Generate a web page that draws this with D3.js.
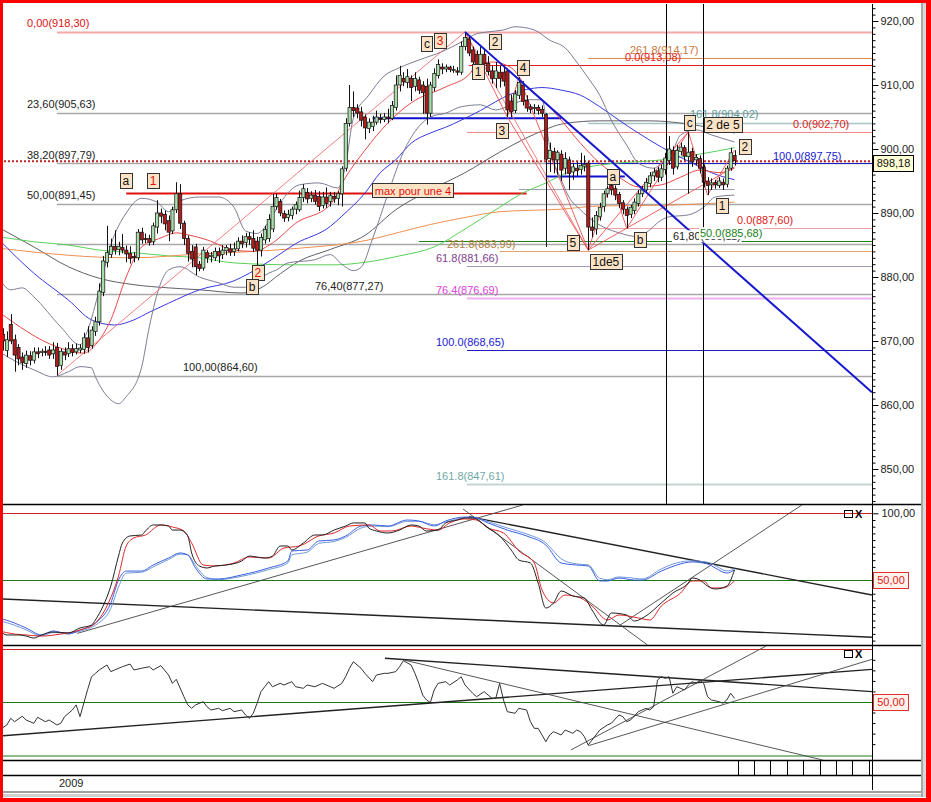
<!DOCTYPE html>
<html><head><meta charset="utf-8">
<script src="https://cdn.jsdelivr.net/npm/d3@7/dist/d3.min.js"></script>
<style>
html,body{margin:0;padding:0;background:#fff;}
svg{display:block;}
text{font-family:"Liberation Sans",Arial,sans-serif;}
</style></head><body>
<svg id="chart" width="931" height="802"></svg>
<script>
// ---------------- DATA ----------------
const opens=[871.0,868.5,872.6,870.2,869.0,867.5,866.5,867.7,867.0,868.3,
868.2,868.4,868.6,868.0,869.0,866.2,868.3,868.0,868.8,868.3,
868.6,868.7,870.5,869.3,871.5,873.0,877.6,882.3,883.5,884.8,
884.3,884.6,884.2,883.7,883.2,883.0,887.0,886.0,886.0,885.5,
887.8,890.0,889.8,888.8,887.2,890.5,893.0,888.4,886.0,884.0,
884.7,882.0,881.4,883.8,883.2,883.0,884.0,883.5,884.1,884.4,
884.0,884.4,885.6,885.4,886.3,886.0,885.6,884.2,885.8,886.0,
887.5,891.0,891.8,889.9,889.3,889.6,890.6,890.5,892.4,893.2,
892.3,892.8,892.6,891.2,892.5,891.8,892.6,892.3,893.0,897.0,
904.0,906.5,906.4,905.8,905.0,903.2,903.5,904.2,904.8,904.6,
905.0,904.8,906.5,910.0,911.0,910.4,911.0,909.8,910.8,910.0,
909.8,905.6,909.6,911.5,912.8,912.5,912.8,912.3,912.2,912.0,
916.0,917.2,915.5,914.8,913.2,914.8,913.4,912.2,911.0,912.0,
912.0,912.2,907.5,906.0,908.4,910.0,907.6,906.6,906.3,906.5,
906.2,905.4,898.5,899.6,898.3,899.2,897.0,898.3,896.4,897.0,
896.8,897.3,897.8,887.8,887.5,889.4,891.0,893.0,894.3,893.8,
892.9,891.6,890.6,889.8,890.4,891.5,893.0,893.6,894.6,895.8,
896.6,895.6,896.8,898.2,899.8,897.2,899.6,900.2,898.8,899.6,
898.3,898.5,897.2,895.0,894.4,894.8,894.3,894.8,894.5,897.0,
899.0];
const highs=[872.0,871.5,874.2,871.0,869.5,868.2,868.5,868.4,869.0,869.0,
868.8,869.2,869.2,869.8,869.7,868.8,869.0,869.8,869.5,869.6,
869.5,871.3,872.3,872.3,873.8,879.0,883.3,888.0,886.0,887.3,
885.5,886.7,884.9,884.8,883.9,887.5,887.7,886.8,886.6,888.5,
892.0,890.7,890.4,889.6,891.0,894.8,894.5,888.8,886.5,885.0,
885.2,882.5,884.7,884.2,883.9,884.6,884.6,885.0,885.0,885.2,
885.4,886.2,886.5,886.9,887.0,887.3,886.3,886.8,888.0,889.8,
893.0,893.0,892.2,890.4,890.5,891.0,891.8,893.5,894.5,893.9,
893.4,893.6,893.4,893.3,894.0,893.3,893.3,893.4,897.3,904.8,
910.0,909.0,907.0,906.6,905.4,904.8,905.2,906.0,905.5,905.6,
906.3,907.5,911.5,913.0,912.0,912.5,911.5,912.0,911.3,910.6,
911.0,910.5,912.6,914.0,913.4,913.2,913.0,913.0,912.8,916.8,
918.3,917.8,916.0,915.4,916.0,915.5,914.5,913.0,913.6,913.0,
912.8,912.6,908.5,909.2,911.2,910.6,908.4,907.0,907.0,906.9,
906.8,905.6,901.0,900.2,899.8,899.8,899.5,898.8,897.8,898.0,
899.4,899.0,898.0,889.3,890.3,891.6,893.5,894.3,895.0,894.3,
893.3,892.0,891.0,891.3,892.3,893.6,894.2,895.5,896.4,897.0,
897.2,897.6,899.4,902.0,900.4,900.6,901.0,900.6,902.7,900.2,
899.2,899.0,897.6,895.6,895.4,895.2,895.6,895.4,897.4,900.2,
899.8];
const lows=[868.5,867.5,869.5,865.2,866.2,865.5,865.8,866.2,866.5,867.3,
867.6,867.7,867.2,867.2,864.6,865.5,867.0,867.5,867.6,867.9,
868.1,868.0,868.2,868.8,870.8,872.4,877.0,881.5,883.0,883.5,
883.4,883.7,882.3,882.1,882.3,882.6,885.2,885.3,884.9,885.0,
886.8,888.4,887.3,885.6,886.7,890.0,887.5,885.0,882.4,881.5,
880.3,880.9,881.0,882.2,882.3,882.5,882.2,882.8,883.4,883.3,
883.3,884.0,884.5,884.6,885.0,883.9,880.6,883.2,885.2,885.5,
887.0,890.5,889.5,888.6,888.7,889.0,889.8,890.2,891.7,891.5,
891.7,891.3,890.3,890.7,890.8,891.0,891.6,891.2,891.0,896.5,
903.5,905.0,904.8,903.5,901.5,902.5,902.8,903.8,904.0,904.2,
904.0,904.5,906.0,909.0,909.8,909.5,907.5,909.0,908.6,905.5,
903.8,905.0,909.0,911.0,911.7,912.0,912.0,911.9,911.5,911.6,
915.4,914.5,913.0,912.4,912.8,912.5,911.5,910.2,909.5,909.6,
909.8,905.0,905.0,905.6,907.8,906.8,905.8,905.6,905.5,905.4,
905.0,884.7,896.4,896.2,896.0,895.0,896.0,893.6,895.2,895.8,
896.0,896.5,884.2,886.2,886.6,888.8,890.2,892.4,892.8,892.0,
890.8,889.8,887.6,889.2,889.8,891.0,892.5,893.2,894.0,895.0,
894.8,895.0,896.0,897.5,896.0,896.8,899.0,898.2,893.0,897.2,
897.5,896.2,894.0,892.8,893.6,893.8,893.9,893.6,894.0,896.6,
897.4];
const closes=[870.0,870.2,870.0,867.8,867.2,866.6,867.8,867.0,868.3,868.0,
868.4,868.2,867.8,868.6,866.0,868.4,867.8,868.8,868.2,868.8,
868.9,870.5,869.0,871.7,873.0,877.8,882.5,883.8,884.8,884.2,
884.8,884.2,883.6,882.9,883.0,887.0,885.8,885.9,885.4,888.0,
890.0,889.5,888.3,887.0,890.5,893.0,888.4,886.0,883.7,882.8,
881.6,881.3,884.2,883.0,883.4,884.0,883.3,884.2,884.6,883.9,
884.4,885.6,885.2,886.3,885.9,884.5,884.2,886.2,887.4,889.0,
891.0,892.4,890.0,889.2,889.8,890.6,891.3,892.4,893.8,892.2,
892.8,891.8,891.0,892.5,891.5,892.7,892.2,893.0,896.9,904.0,
906.5,906.0,905.6,904.5,903.3,904.2,904.2,905.0,904.6,905.0,
904.8,906.8,910.0,911.5,910.5,911.3,909.6,911.0,909.2,908.8,
905.6,910.0,911.8,913.2,912.5,912.8,912.4,912.4,912.0,916.0,
917.4,915.0,913.6,913.0,914.8,913.3,912.1,911.0,912.2,911.0,
910.6,906.1,905.8,908.6,910.4,907.4,906.4,906.2,906.5,906.0,
905.6,898.4,899.8,898.3,899.5,896.7,898.5,896.2,897.2,896.6,
897.4,897.6,887.8,887.3,889.6,890.9,893.0,893.8,893.6,892.8,
891.5,890.6,889.6,890.9,891.7,893.0,893.6,894.8,895.8,896.4,
895.6,896.9,898.6,900.0,897.0,899.8,900.3,898.9,899.5,898.0,
898.7,897.0,894.8,894.3,894.7,894.4,895.0,894.4,897.0,899.4,
898.18];
const lastPrice=898.18;

// indicator curves: [bar index, value]
const bbUpper=[[-1,879.8],[2,878.0],[5,878.3],[8,876.9],[15,872.2],[20,869.4],[22,871.7],[25,878.0],[28,885.0],[32,890.0],[36,892.3],[40,891.7],[43,890.2],[46,891.9],[51,892.5],[56,892.5],[60,890.9],[63,887.2],[66,886.8],[69,888.6],[72,891.6],[77,894.4],[82,894.7],[87,893.9],[89,897.5],[91,904.8],[95,908.4],[99,911.4],[103,912.7],[108,913.9],[114,915.2],[119,916.7],[123,918.0],[126,918.3],[130,918.6],[133,919.1],[138,918.6],[142,917.0],[146,915.8],[149,913.6],[152,911.1],[155,908.4],[158,904.5],[162,900.6],[165,897.8],[169,897.0],[171,897.8],[174,899.8],[176,902.2],[180,903.0],[184,902.2],[190,901.1]];
const bbLower=[[-1,868.3],[4,866.6],[8,865.5],[13,864.4],[17,865.2],[20,866.0],[23,865.8],[24,864.4],[28,860.8],[30,860.2],[32,861.3],[36,865.9],[38,872.2],[41,879.1],[43,881.1],[46,881.6],[51,880.0],[56,879.1],[60,878.4],[63,878.4],[66,879.5],[69,880.6],[71,881.1],[74,882.2],[81,882.7],[85,883.5],[88,882.0],[91,881.0],[93,881.5],[96,886.0],[100,893.0],[104,899.5],[108,903.5],[111,905.0],[115,905.6],[119,906.6],[124,906.9],[128,906.1],[132,906.9],[136,907.7],[140,907.7],[142,900.3],[145,895.2],[147,892.5],[150,890.5],[153,888.9],[156,887.8],[160,886.9],[165,886.3],[167,886.9],[171,888.9],[173,889.4],[178,889.7],[182,890.9],[185,892.5],[190,892.8]];
const darkMA=[[-1,887.7],[8,884.7],[17,881.6],[25,879.8],[34,878.8],[43,878.3],[51,878.0],[62,877.5],[67,878.3],[72,880.5],[77,882.5],[85,884.3],[94,886.5],[102,890.5],[111,893.6],[120,896.3],[129,899.5],[138,902.3],[146,904.0],[155,904.4],[168,904.4],[178,903.9],[190,902.5]];
const blueMA=[[-1,885.8],[8,880.6],[17,876.4],[23,873.3],[29,872.5],[34,873.3],[38,874.5],[43,875.9],[51,878.0],[60,879.4],[64,880.6],[70,882.8],[76,885.2],[85,887.9],[88,889.5],[94,893.1],[98,896.3],[102,898.3],[106,900.9],[111,902.5],[115,903.4],[119,904.5],[124,906.0],[128,907.4],[132,908.6],[136,909.3],[140,909.6],[145,909.2],[150,908.4],[155,906.6],[160,904.5],[165,902.5],[171,900.3],[179,897.8],[184,896.3],[190,895.2]];
const greenMA=[[-1,886.3],[8,885.5],[17,885.0],[25,884.2],[34,883.8],[43,883.3],[51,883.0],[60,882.2],[76,881.9],[86,881.9],[94,882.3],[103,883.3],[112,884.7],[120,887.5],[124,889.0],[129,890.9],[134,892.8],[141,894.7],[147,896.4],[155,897.5],[171,898.3],[181,899.2],[190,900.2]];
const orangeMA=[[-1,884.5],[17,883.4],[25,883.1],[34,883.0],[51,883.6],[62,883.9],[77,884.5],[95,885.8],[103,887.0],[111,888.2],[120,889.3],[129,890.2],[145,890.6],[155,891.1],[171,891.2],[190,891.7]];
const redMA=[[-1,874.5],[14,869.1],[21,868.1],[24,869.4],[28,873.3],[32,880.0],[36,884.7],[41,886.1],[45,886.9],[48,886.6],[53,885.8],[60,884.2],[65,884.0],[70,885.3],[76,888.4],[85,891.3],[89,895.6],[94,899.8],[100,904.1],[106,907.2],[115,909.7],[121,911.6],[123,913.0],[127,913.6],[132,912.7],[136,909.7],[141,907.2],[145,904.5],[150,900.9],[155,897.8],[160,895.6],[165,894.1],[171,894.4],[176,895.6],[181,896.7],[186,896.3],[190,897.0]];

// Fibonacci levels
const leftFibPrices=[918.30,905.63,897.79,891.45,885.11,877.27,864.60];
const leftFibLabels=["0,00(918,30)","23,60(905,63)","38,20(897,79)","50,00(891,45)","61,80(885,11)","76,40(877,27)","100,00(864,60)"];
const rightFibPrices=[914.17,913.08,904.02,902.70,897.75,887.60,885.68,883.99,881.66,876.69,868.65,847.61];
const rightFibLabels=["261.8(914,17)","0.0(913,08)","161.8(904,02)","0.0(902,70)","100.0(897,75)","0.0(887,60)","50.0(885,68)","261.8(883,99)","61.8(881,66)","76.4(876,69)","100.0(868,65)","161.8(847,61)"];

// wave labels
const waveTexts=["a","1","c","3","2","1","4","3","5","1de5","b","a","c","2 de 5","2","1","2","b"];
const waveIdx=[31.9,39,110.1,113.5,127.8,123.4,135.1,129.6,148,156.6,165.5,158.4,178.4,187,192.7,186.8,66.2,64.7];
const wavePrice=[895.0,895.0,916.4,916.9,916.7,912.0,912.7,902.8,885.3,882.3,885.8,895.6,904.1,903.75,900.3,891.1,880.6,878.4];
const waveRed=[false,true,false,true,false,false,false,false,false,false,false,false,false,false,false,false,true,false];

// stochastic (0-100)
const stochK=[[-1,12.9],[1,9.2],[4,9.2],[6,8.4],[8,6.9],[10,9.2],[13,11.4],[17,10.7],[20,14.4],[23,16.6],[24,20.4],[26,30.8],[28,45.7],[30,68.1],[31,77.8],[33,83.1],[36,83.8],[37,86.8],[39,91.3],[41,91.3],[43,90.5],[44,87.5],[46,87.5],[48,83.1],[49,70.4],[51,60.7],[53,59.2],[55,60.7],[58,61.4],[62,64.4],[64,68.1],[68,66.6],[70,68.1],[72,75.6],[74,75.6],[75,72.6],[78,77.8],[81,83.8],[83,83.8],[86,87.5],[89,90.5],[91,92.8],[94,92.8],[95,89],[97,86.8],[100,85.3],[103,87.5],[106,91.3],[108,90.5],[110,86.8],[113,87.5],[115,92.8],[118,95],[120,96.5],[122,96.5],[126,89],[129,83.1],[132,72.6],[134,65.1],[137,62.9],[139,48],[141,29.3],[143,33.1],[145,42],[148,38.3],[151,36.8],[153,27.8],[156,16.6],[158,25.6],[162,24.1],[164,19.6],[167,23.4],[171,33.1],[174,40.5],[178,48],[179,51.7],[181,50.2],[183,45.7],[185,43.5],[188,45.7],[190,57.7]];
const stochD=[[-1,12.2],[3,9.9],[6,9.2],[10,8.4],[15,9.9],[20,12.9],[24,18.1],[27,30.8],[30,53.2],[32,75.6],[34,81.6],[37,83.8],[41,91.3],[44,89.8],[47,86.8],[49,77.8],[52,61.4],[55,60.7],[60,62.9],[64,67.4],[69,66.6],[73,74.1],[77,75.6],[82,83.1],[86,85.3],[90,90.5],[95,91.3],[98,86.8],[101,86.8],[106,90.5],[109,89],[113,87.5],[116,92.8],[120,95.8],[123,95],[126,89],[130,85.3],[134,71.9],[138,62.9],[140,42.8],[143,33.1],[146,39],[150,36.8],[153,30.8],[157,20.4],[160,24.1],[165,21.9],[168,20.4],[171,30.8],[176,40.5],[179,49.5],[182,49.5],[184,44.3],[187,44.3],[190,49.5]];
const stochSlow1=[[-1,21.9],[3,18.1],[6,14.4],[10,9.2],[13,12.2],[17,9.9],[20,12.9],[24,18.1],[28,33.1],[30,50.2],[32,56.9],[36,56.9],[39,61.4],[43,66.6],[46,70.4],[48,68.9],[50,59.2],[53,51],[56,51],[62,54],[69,59.2],[74,64.4],[75,71.9],[79,72.6],[82,79.3],[86,80.1],[89,83.1],[93,90.5],[96,91.3],[100,90.5],[105,95],[108,94.3],[112,90.5],[115,94.3],[120,97.2],[122,97.2],[126,92.8],[131,87.5],[136,83.1],[141,76.3],[145,62.9],[149,61.4],[152,60.7],[155,49.5],[157,49.5],[160,51.7],[164,50.2],[166,50.2],[171,56.9],[175,61.4],[179,63.7],[183,62.2],[185,59.2],[188,55.4],[190,57.7]];
const stochSlow2=[[-1,20],[3,16.5],[6,13],[10,8.5],[13,11],[17,10.5],[20,12],[24,16.5],[28,29],[30,45],[32,55.4],[36,56],[39,60],[43,65.5],[46,69.5],[48,69],[50,61],[53,52],[56,50.5],[62,53],[69,58],[74,63],[75,69],[79,71],[82,77.5],[86,79],[89,82],[93,89],[96,90.5],[100,90],[105,94],[108,94],[112,91.5],[115,93.5],[120,96.5],[122,96.5],[126,93.8],[131,89],[136,84.6],[141,78],[145,66],[149,62.2],[152,61.5],[155,51.5],[157,50.5],[160,52.5],[164,51.5],[166,51],[171,58.5],[175,63],[179,64.5],[183,63.5],[185,61],[188,57],[190,58.5]];

// RSI (0-100)
const rsi=[[-1,23.4],[1,28.2],[2,34.5],[3,31.3],[5,36.5],[6,32.9],[8,29.8],[9,35.5],[11,31.3],[12,32.9],[14,28.2],[15,29.8],[16,36.1],[18,42.4],[19,47.2],[20,36.1],[22,62],[23,74],[24,77.2],[25,80.4],[27,85.1],[28,78.8],[29,80.4],[31,83.5],[33,86],[34,80.4],[36,82],[38,83.5],[39,80.4],[41,84.5],[43,75.6],[44,67.7],[45,71.5],[47,55],[48,47.2],[49,44],[50,47.2],[52,50.3],[53,45.5],[54,42.4],[56,44],[57,41.8],[59,44],[60,40.8],[62,42.4],[63,37.7],[64,34.5],[65,39.3],[66,48.8],[67,59.8],[68,64.5],[69,69.3],[70,64.5],[72,67.7],[73,66.1],[75,69.3],[76,64.5],[78,63],[79,66.1],[81,64.5],[83,67.7],[85,64.5],[86,63],[88,67.7],[89,74],[90,82],[91,88.2],[93,82],[94,77.2],[96,69.3],[97,75.6],[99,77.2],[100,77.2],[102,78.8],[103,83.5],[104,89.2],[106,85.1],[107,77.2],[108,67.7],[109,56.6],[110,51.9],[111,49.5],[112,61.4],[113,67.7],[115,69.3],[116,66.1],[118,70.9],[119,74],[120,66.1],[122,58.3],[123,55],[125,59.8],[126,56.6],[127,53.5],[128,53.5],[129,67.7],[130,51.9],[131,40.8],[133,39.3],[134,44],[136,42.4],[137,31.3],[138,25],[139,25],[140,18.7],[141,12.3],[142,18.7],[143,21.8],[145,18.7],[146,23.4],[148,20.3],[149,23.4],[150,21.8],[151,17.1],[152,9.2],[153,13.9],[155,23.4],[157,28.2],[158,29.8],[160,37.7],[161,36.1],[162,31.3],[163,32.9],[165,40.8],[167,44],[168,42.4],[169,45.5],[170,70.9],[171,74],[172,72.5],[173,74],[174,58.3],[175,64.5],[177,61.4],[178,66.1],[179,69.3],[180,67.7],[181,70.9],[182,67.7],[183,55],[184,51.9],[186,50.3],[187,48.8],[188,51.9],[189,58.3],[190,53.5]];

// trend lines: [[i0,v0],[i1,v1]]
const blueTrend=[[120,918.3],[225.7,862.0]];
const fibDiagonals=[[[14,864.6],[120,918.3]],[[120,918.3],[152,884.2]]];
const waveLines=[[[120,918.3],[131,905.0],[134,911.2],[152,884.2]],[[131,905.0],[152,884.2]],[[152,884.2],[158,895.0],[162,887.6],[178,902.7],[183,892.8],[190,899.8]],[[152,884.2],[178,902.7]],[[152,884.2],[190,897.2]]];
const verticalBars=[172.2,181.8];
const stochTrends=[[[-1,36.2],[225.7,7.5]],[[19.3,10.4],[135,106.2]],[[121,97.5],[225.7,39]],[[119.5,103.2],[167.4,1.7]],[[160.3,16.6],[207.5,106.2]]];
const rsiTrends=[[[-1,17.7],[225.7,81]],[[99.2,91.5],[225.7,59.8]],[[104.2,89.8],[212.9,-5]],[[147.5,4.5],[198.2,103.1]],[[152,8.5],[225.7,90.5]]];
const yearLabel="2009";

// ---------------- LAYOUT ----------------
const svg=d3.select('#chart');
const PR=872;
const x=d3.scaleLinear().domain([0,190]).range([3,734.5]);
const yP=d3.scaleLinear().domain([850,920]).range([469,21]);
const yS=d3.scaleLinear().domain([0,100]).range([647.3,513.3]);
const yR=d3.scaleLinear().domain([0,100]).range([754.7,649.3]);
const fmt=v=>d3.format('.2f')(v).replace('.',',');
const px=v=>Math.round(v)+0.5;

const defs=svg.append('defs');
function clip(id,x0,y0,w,h){defs.append('clipPath').attr('id',id).append('rect').attr('x',x0).attr('y',y0).attr('width',w).attr('height',h);}
clip('cm',3,4,PR-3,500.5);clip('cs',3,505,PR-3,140.5);clip('cr',3,646,PR-3,114);

svg.append('rect').attr('width',931).attr('height',802).attr('fill','#fff');

const gm=svg.append('g').attr('clip-path','url(#cm)');
function hl(g,yv,xs,xe,color,w,dash){g.append('line').attr('x1',xs).attr('x2',xe).attr('y1',yv).attr('y2',yv).attr('stroke',color).attr('stroke-width',w).attr('stroke-dasharray',dash||null);}

// left fib
const leftStyle=[{c:'#f4a8a8',w:2,lx:27,lc:'#e01010'},{c:'#a8a8a8',w:1.5,lx:27,lc:'#222'},{c:'#a8a8a8',w:1.5,lx:27,lc:'#222'},{c:'#a8a8a8',w:1.5,lx:27,lc:'#222'},{c:'#a8a8a8',w:1.5,lx:673,lc:'#222'},{c:'#a8a8a8',w:1.5,lx:315,lc:'#222'},{c:'#a8a8a8',w:1.5,lx:183,lc:'#222'}];
leftFibPrices.forEach((p,k)=>hl(gm,px(yP(p)),x(14),PR,leftStyle[k].c,leftStyle[k].w));
// right fib
const rightStyle=[{f:152,c:'#e08848',w:1,lx:630,lc:'#c87840',dy:-4},{f:121,c:'#e02020',w:1,lx:625,lc:'#e02020',dy:-4},{f:152,c:'#a8c4c4',w:1.5,lx:690,lc:'#5a9a9a',dy:-5},{f:120.5,c:'#f08888',w:1,lx:793,lc:'#e02020',dy:-3.5},{f:141,c:'#2020c0',w:1,lx:773,lc:'#2020d0',dy:-3.5},{f:152.5,c:'#f0a0a0',w:1,lx:737,lc:'#e02020',dy:-4.5},{f:108,c:'#208020',w:1,lx:700,lc:'#208020',dy:-3.5,bg:true},{f:129,c:'#e0a070',w:1,lx:447,lc:'#b08040',dy:-3.5},{f:120.5,c:'#a898b8',w:1,lx:436,lc:'#804090',dy:-4},{f:120.5,c:'#f0b0f0',w:2,lx:436,lc:'#e040e0',dy:-4},{f:120.5,c:'#2020c0',w:1,lx:436,lc:'#2020d0',dy:-3.5},{f:120.5,c:'#c4d4d4',w:2,lx:436,lc:'#70a8a8',dy:-4}];
rightFibPrices.forEach((p,k)=>hl(gm,px(yP(p)),x(rightStyle[k].f),PR,rightStyle[k].c,rightStyle[k].w));
// other horizontal lines
hl(gm,px(yP(893.75)),x(134),x(190),'#a0a0b0',1);
hl(gm,yP(893.05),x(32),x(136),'#e01010',2);
hl(gm,yP(904.8),x(96),x(145),'#1010d0',2);
hl(gm,yP(895.7),x(141),x(161.5),'#1010d0',2);
hl(gm,yP(lastPrice)+0.5,0,PR,'#c02828',2,'2,2');

// curves
const lineP=d3.line().x(d=>x(d[0])).y(d=>yP(d[1])).curve(d3.curveMonotoneX);
[[darkMA,'#606068'],[greenMA,'#58d058'],[orangeMA,'#f09050'],[blueMA,'#3838e0'],[bbUpper,'#7c7c94'],[bbLower,'#7c7c94'],[redMA,'#e84848']].forEach(([d,c])=>{
  gm.append('path').attr('d',lineP(d)).attr('fill','none').attr('stroke',c).attr('stroke-width',1);
});
const lineL=d3.line().x(d=>x(d[0])).y(d=>yP(d[1]));
fibDiagonals.forEach(d=>gm.append('path').attr('d',lineL(d)).attr('fill','none').attr('stroke','#f07070').attr('stroke-width',0.9));
waveLines.forEach(d=>gm.append('path').attr('d',lineL(d)).attr('fill','none').attr('stroke','#f05050').attr('stroke-width',0.9));

// candles
const idx=d3.range(closes.length);
gm.append('g').selectAll('line').data(idx).join('line')
  .attr('x1',i=>px(x(i))).attr('x2',i=>px(x(i)))
  .attr('y1',i=>yP(highs[i])).attr('y2',i=>yP(lows[i]))
  .attr('stroke','#111').attr('stroke-width',1);
gm.append('g').selectAll('rect').data(idx).join('rect')
  .attr('x',i=>x(i)-1.5).attr('width',3.2)
  .attr('y',i=>yP(Math.max(opens[i],closes[i])))
  .attr('height',i=>Math.max(1,Math.abs(yP(opens[i])-yP(closes[i]))))
  .attr('fill',i=>closes[i]>=opens[i]?'#a8dca8':'#b01c1c')
  .attr('stroke','#111').attr('stroke-width',0.7);

// verticals
verticalBars.forEach(v=>gm.append('line').attr('x1',px(x(v))).attr('x2',px(x(v))).attr('y1',4).attr('y2',505).attr('stroke','#000').attr('stroke-width',1));
// blue trend
gm.append('path').attr('d',lineL(blueTrend)).attr('fill','none').attr('stroke','#1818d0').attr('stroke-width',2);

// fib labels
const gl=svg.append('g').style('font-size','11px');
leftFibPrices.forEach((p,k)=>{
  const st=leftStyle[k];
  const t=gl.append('text').attr('x',st.lx).attr('y',yP(p)-4.5).attr('fill',st.lc).text(leftFibLabels[k]);
  if(k===4){const w=t.node().getComputedTextLength();gl.insert('rect',()=>t.node()).attr('x',st.lx-1).attr('y',yP(p)-14).attr('width',w+2).attr('height',12).attr('fill','#fff');}
});
rightFibPrices.forEach((p,k)=>{
  const st=rightStyle[k];
  const t=gl.append('text').attr('x',st.lx).attr('y',yP(p)+st.dy).attr('fill',st.lc).text(rightFibLabels[k]);
  if(st.bg){const w=t.node().getComputedTextLength();gl.insert('rect',()=>t.node()).attr('x',st.lx-1).attr('y',yP(p)+st.dy-10).attr('width',w+2).attr('height',12).attr('fill','#fff');}
});

function boxLabel(g,cx,cy,txt,color,fs,fill){
  const t=g.append('text').attr('x',cx).attr('y',cy).attr('text-anchor','middle').attr('dominant-baseline','central').style('font-size',fs+'px').attr('fill',color).text(txt);
  const w=t.node().getComputedTextLength();
  g.insert('rect',()=>t.node()).attr('x',Math.round(cx-w/2-2.5)+0.5).attr('y',Math.round(cy-fs/2-2)+0.5).attr('width',Math.round(w+5)).attr('height',fs+3).attr('fill',fill).attr('stroke','#333').attr('stroke-width',1);
}
const gw=svg.append('g');
waveTexts.forEach((s,k)=>boxLabel(gw,x(waveIdx[k]),yP(wavePrice[k]),s,waveRed[k]?'#e01010':'#111',12,'#fce3c6'));
boxLabel(gw,x(106.5),yP(893.44),'max pour une 4','#e01010',11,'#fce3c6');

// ---------------- PANELS ----------------
// separators
[[504.5],[645.5],[760.5],[775.5]].forEach(([yy])=>svg.append('line').attr('x1',0).attr('x2',922).attr('y1',yy).attr('y2',yy).attr('stroke','#000').attr('stroke-width',1.3));

// stochastic
const gs=svg.append('g').attr('clip-path','url(#cs)');
hl(gs,px(yS(100)),0,PR,'#d02020',1.2);
hl(gs,px(yS(50)),0,PR,'#1a7a1a',1.2);
const lineS=d3.line().x(d=>x(d[0])).y(d=>yS(d[1])).curve(d3.curveMonotoneX);
const lineSL=d3.line().x(d=>x(d[0])).y(d=>yS(d[1]));
stochTrends.forEach((d,k)=>gs.append('path').attr('d',lineSL(d)).attr('fill','none').attr('stroke',k===0||k===2?'#222':'#444').attr('stroke-width',k===0||k===2?1.4:0.9));
[[stochSlow2,'#7098d8'],[stochSlow1,'#3a5ee0'],[stochD,'#e02828'],[stochK,'#222']].forEach(([d,c])=>gs.append('path').attr('d',lineS(d)).attr('fill','none').attr('stroke',c).attr('stroke-width',1));

// RSI
const gr=svg.append('g').attr('clip-path','url(#cr)');
hl(gr,px(yR(100)),0,PR,'#d02020',1.2);
hl(gr,px(yR(50)),0,PR,'#1a7a1a',1.2);
hl(gr,px(yR(0))+0.5,0,PR,'#1a7a1a',1.2);
const lineR=d3.line().x(d=>x(d[0])).y(d=>yR(d[1]));
rsiTrends.forEach((d,k)=>gr.append('path').attr('d',lineR(d)).attr('fill','none').attr('stroke',k<2?'#222':'#444').attr('stroke-width',k<2?1.4:0.9));
gr.append('path').attr('d',lineR(rsi)).attr('fill','none').attr('stroke','#333').attr('stroke-width',1);

// ---------------- AXES ----------------
const ax=svg.append('g').attr('transform',`translate(${PR},0)`);
ax.append('line').attr('x1',0.5).attr('x2',0.5).attr('y1',4).attr('y2',790).attr('stroke','#000');
function styleAx(g){g.select('.domain').remove();g.selectAll('text').style('font-size','11px').attr('fill','#222');g.selectAll('line').attr('stroke','#000');}
ax.append('g').attr('transform','translate(0.5,0)').call(d3.axisRight(yP).tickValues(d3.range(845,923)).tickSize(3).tickFormat('')).call(styleAx);
ax.append('g').attr('transform','translate(0.5,0)').call(d3.axisRight(yP).tickValues(d3.range(850,921,10)).tickSize(6).tickPadding(2).tickFormat(fmt)).call(styleAx);
ax.append('g').attr('transform','translate(0.5,0)').call(d3.axisRight(yS).tickValues(d3.range(5,100,5)).tickSize(3).tickFormat('')).call(styleAx);
ax.append('g').attr('transform','translate(0.5,0)').call(d3.axisRight(yS).tickValues([100]).tickSize(6).tickPadding(3).tickFormat(fmt)).call(styleAx);
ax.append('g').attr('transform','translate(0.5,0)').call(d3.axisRight(yR).tickValues(d3.range(10,100,10)).tickSize(3).tickFormat('')).call(styleAx);

function valBox(yc,txt,stroke,tc,fill,w){
  svg.append('rect').attr('x',873.5).attr('y',Math.round(yc-8)+0.5).attr('width',w).attr('height',16).attr('fill',fill).attr('stroke',stroke);
  svg.append('text').attr('x',873.5+w/2).attr('y',yc).attr('dominant-baseline','central').attr('text-anchor','middle').style('font-size','11px').attr('fill',tc).text(txt);
}
valBox(yP(lastPrice)+2,fmt(lastPrice),'#000','#111','#ffffd4',40);
valBox(yS(50),fmt(50),'#e03030','#e02020','#fff2ea',35);
valBox(yR(50),fmt(50),'#e03030','#e02020','#fff2ea',35);

// panel icons
[510,650].forEach(yy=>{
  svg.append('rect').attr('x',844.5).attr('y',yy+0.5).attr('width',8).attr('height',7).attr('fill','none').attr('stroke','#000');
  svg.append('text').attr('x',855).attr('y',yy+8).style('font-size','11px').style('font-weight','bold').attr('fill','#000').text('X');
});

// date strip
d3.range(737.5,870,16.4).forEach(xx=>svg.append('line').attr('x1',px(xx)).attr('x2',px(xx)).attr('y1',760).attr('y2',775).attr('stroke','#000'));
svg.append('text').attr('x',59).attr('y',787).style('font-size','11px').attr('fill','#222').text(yearLabel);

// chrome
svg.append('rect').attr('x',0).attr('y',791).attr('width',926).attr('height',2).attr('fill','#a0a0a0');
svg.append('rect').attr('x',0).attr('y',794).attr('width',926).attr('height',3).attr('fill','#d0d0d0');
svg.append('rect').attr('x',921).attr('y',0).attr('width',2).attr('height',797).attr('fill','#a8a8a8');
svg.append('rect').attr('x',923).attr('y',0).attr('width',3).attr('height',797).attr('fill','#d8d8d8');
[[0,0,931,3],[0,0,3,802],[926,0,5,802],[0,798,931,4]].forEach(([a,b,c,d])=>svg.append('rect').attr('x',a).attr('y',b).attr('width',c).attr('height',d).attr('fill','#ff0000'));
</script></body></html>
